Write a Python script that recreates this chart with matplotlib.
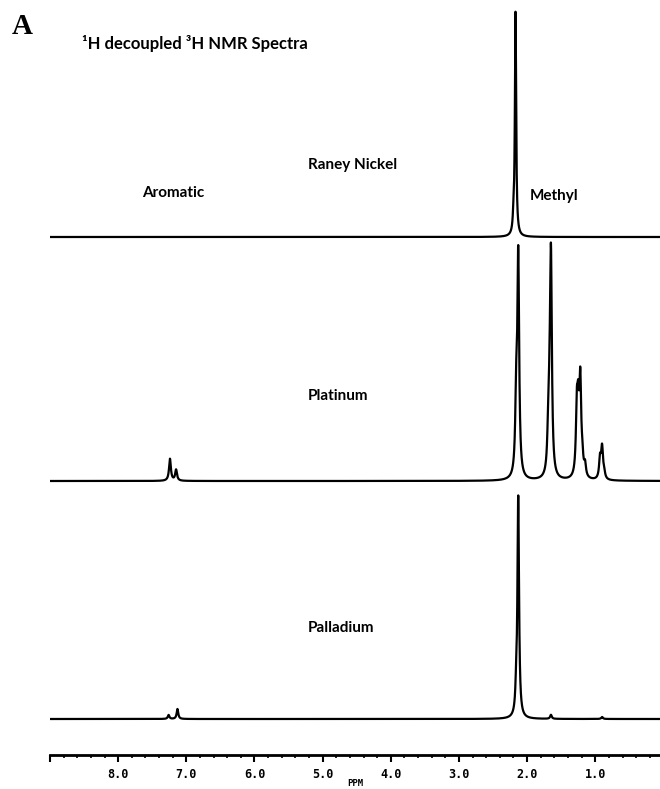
import numpy as np
import matplotlib.pyplot as plt
from matplotlib.ticker import MultipleLocator

# peak lists: (ppm, height in px above baseline)
raney_ppm = [2.17, 2.20]
raney_height = [224, 12]

platinum_ppm = [7.24, 7.15, 2.16, 2.13, 1.69, 1.67, 1.65, 1.27, 1.25, 1.22,
                1.19, 1.15, 0.93, 0.90, 0.87]
platinum_height = [22, 11, 70, 220, 35, 45, 215, 62, 55, 92, 14, 12, 20, 31, 6]

palladium_ppm = [7.26, 7.13, 2.16, 2.13, 1.65, 0.90]
palladium_height = [4, 10, 20, 220, 4, 2]

sample_names = ["Raney Nickel", "Platinum", "Palladium"]
baselines = [518, 274, 36]  # px above the axis line
line_hwhm = [0.011, 0.016, 0.014]

tick_values = [8.0, 7.0, 6.0, 5.0, 4.0, 3.0, 2.0, 1.0]


def spectrum(ppm_grid, centers, heights, hwhm):
    y = np.zeros_like(ppm_grid)
    for c, h in zip(centers, heights):
        y += h / (1 + ((ppm_grid - c) / hwhm) ** 2)
    return y


W, H = 660, 789
fig = plt.figure(figsize=(W / 100, H / 100), dpi=100)
ax = fig.add_axes([50 / W, (H - 755) / H, 610 / W, 745 / H])

x = np.linspace(9.0, 0.05, 8000)
all_peaks = [(raney_ppm, raney_height), (platinum_ppm, platinum_height),
             (palladium_ppm, palladium_height)]
for (pp, hh), base, w in zip(all_peaks, baselines, line_hwhm):
    ax.plot(x, base + spectrum(x, pp, hh, w), color="black", lw=1.6,
            solid_joinstyle="round")

ax.set_xlim(9.0, 0.05)
ax.set_ylim(0, 745)
for s in ["top", "left", "right"]:
    ax.spines[s].set_visible(False)
ax.spines["bottom"].set_linewidth(2)
ax.set_yticks([])
ax.set_xticks(tick_values + [9.0])
ax.set_xticklabels([f"{t:.1f}" for t in tick_values] + [""])
ax.xaxis.set_minor_locator(MultipleLocator(0.2))
ax.tick_params(axis="x", which="major", direction="out", length=5, width=1.5,
               pad=4, labelsize=8.5)
ax.tick_params(axis="x", which="minor", direction="out", length=2.5, width=1.2)
for lab in ax.get_xticklabels():
    lab.set_family("DejaVu Sans Mono")
    lab.set_fontweight("bold")
ax.set_xlabel("PPM", family="DejaVu Sans Mono", fontweight="bold",
              fontsize=6.5, labelpad=-1)

lbl = dict(family="Lato", fontweight="bold", fontsize=11, ha="left", va="center")
fig.text(12 / W, 1 - 27 / H, "A", family="Liberation Serif", fontweight="bold",
         fontsize=21, ha="left", va="center")
fig.text(82 / W, 1 - 44 / H, "¹H decoupled ³H NMR Spectra", fontsize=12,
         **{k: v for k, v in lbl.items() if k != "fontsize"})
fig.text(308 / W, 1 - 165 / H, sample_names[0], **lbl)
fig.text(142 / W, 1 - 193 / H, "Aromatic", **lbl)
fig.text(530 / W, 1 - 196 / H, "Methyl", **lbl)
fig.text(308 / W, 1 - 396 / H, sample_names[1], **lbl)
fig.text(308 / W, 1 - 628 / H, sample_names[2], **lbl)

fig.savefig("out.png", dpi=100)
